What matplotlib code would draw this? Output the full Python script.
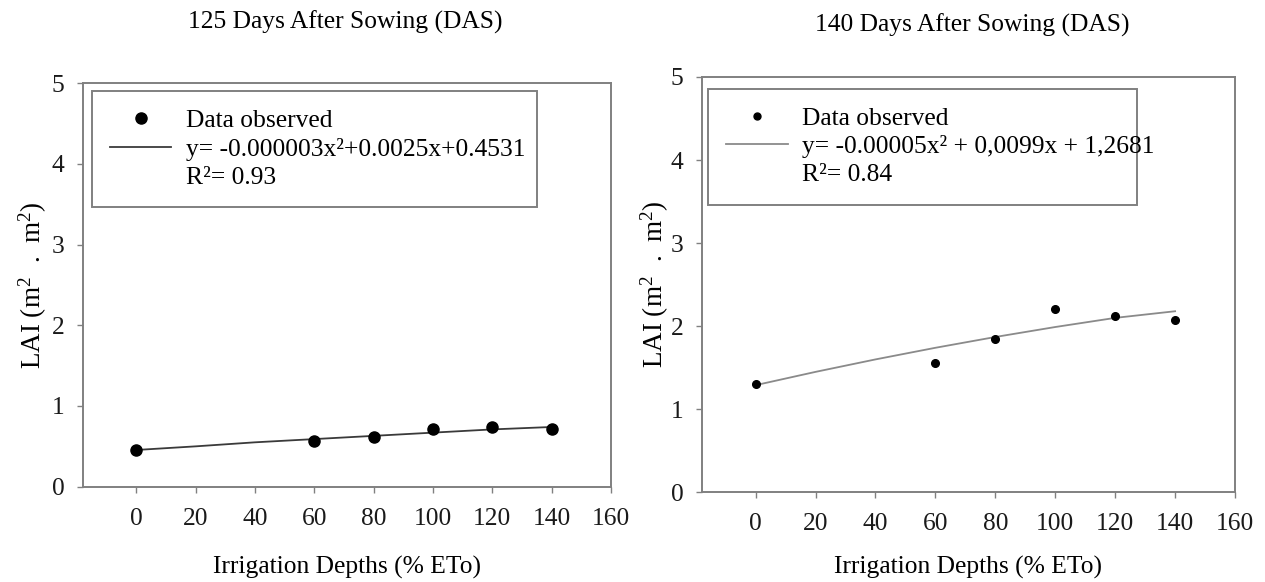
import matplotlib
matplotlib.use("Agg")
import matplotlib.pyplot as plt
from matplotlib.lines import Line2D

plt.rcParams.update({
    "font.family": ["Liberation Serif", "DejaVu Serif"],
    "mathtext.fontset": "custom",
    "mathtext.rm": "Liberation Serif",
    "mathtext.it": "Liberation Serif:italic",
    "font.size": 18.4,
})

# ---- data ----
depths = [0, 60, 80, 100, 120, 140]
lai_125 = [0.46, 0.57, 0.62, 0.71, 0.74, 0.72]
lai_140 = [1.31, 1.56, 1.85, 2.21, 2.12, 2.08]

fit_x = [0, 20, 40, 60, 80, 100, 120, 140]
fit_125 = [0.455, 0.50, 0.55, 0.59, 0.63, 0.67, 0.71, 0.74]
fit_140 = [1.29, 1.45, 1.60, 1.74, 1.87, 1.99, 2.10, 2.18]

titles = ["125 Days After Sowing (DAS)", "140 Days After Sowing (DAS)"]
eq_labels = ["y= -0.000003x\u00b2+0.0025x+0.4531", "y= -0.00005x\u00b2 + 0,0099x + 1,2681"]
r2_labels = ["R\u00b2= 0.93", "R\u00b2= 0.84"]
xticks = [0, 20, 40, 60, 80, 100, 120, 140, 160]
yticks = [0, 1, 2, 3, 4, 5]

FRAME = "#808080"
FS = 18.4

fig = plt.figure(figsize=(12.65, 5.82), dpi=100)
axes = [fig.add_axes([0.0654, 0.1637, 0.4176, 0.6936]),
        fig.add_axes([0.5547, 0.1541, 0.4216, 0.7136])]

styles = [
    dict(ms=8, lc="#3a3a3a", lw=1.3, leg=(0.017, 0.6995, 0.842, 0.2805), ms_leg=8,
         ypad=2, xpad=19),
    dict(ms=5.5, lc="#8a8a8a", lw=1.3, leg=(0.012, 0.697, 0.804, 0.274), ms_leg=5,
         ypad=0, xpad=15),
]
series = [(lai_125, fit_125), (lai_140, fit_140)]

for i, ax in enumerate(axes):
    st = styles[i]
    obs, fit = series[i]
    ax.plot(fit_x, fit, color=st["lc"], lw=st["lw"], zorder=2)
    ax.plot(depths, obs, "o", color="black", ms=st["ms"], zorder=3)

    ax.set_xlim(-18, 160)
    ax.set_ylim(0, 5)
    ax.set_xticks(xticks)
    ax.set_yticks(yticks)
    for s in ax.spines.values():
        s.set_color(FRAME)
        s.set_linewidth(1.4)
    ax.tick_params(direction="out", length=4, width=1, color=FRAME,
                   labelsize=FS, labelcolor="#1a1a1a")
    ax.tick_params(axis="x", pad=11)
    ax.tick_params(axis="y", pad=9)

    ax.set_xlabel("Irrigation Depths (% ETo)", fontsize=FS, labelpad=st["xpad"])
    ax.set_ylabel(r"LAI (m$^2$  .  m$^2$)", fontsize=19.5, labelpad=st["ypad"])

    handles = [
        Line2D([], [], ls="none", marker="o", color="black", ms=st["ms_leg"]),
        Line2D([], [], color=st["lc"], lw=st["lw"]),
        Line2D([], [], ls="none"),
    ]
    leg = ax.legend(handles, ["Data observed", eq_labels[i], r2_labels[i]],
                    loc="upper left", bbox_to_anchor=st["leg"], mode="expand",
                    fontsize=FS, frameon=True, fancybox=False, framealpha=1,
                    edgecolor=FRAME, borderpad=0.72, labelspacing=0.2,
                    handlelength=2.4, handletextpad=0.55, borderaxespad=0)
    leg.get_frame().set_linewidth(1.4)

fig.text(345 / 1265, 1 - 22 / 582, titles[0], ha="center", va="center", fontsize=FS)
fig.text(972 / 1265, 1 - 25 / 582, titles[1], ha="center", va="center", fontsize=FS)

fig.savefig("out.png", dpi=100, facecolor="white")
